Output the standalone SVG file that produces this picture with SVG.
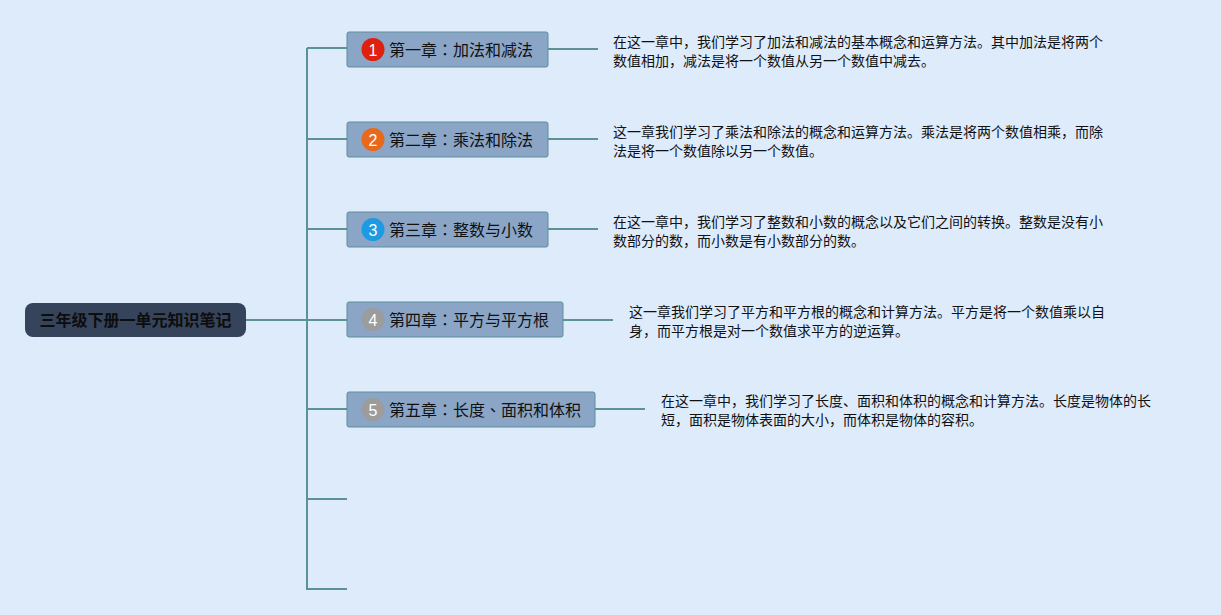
<svg xmlns="http://www.w3.org/2000/svg" width="1221" height="615" viewBox="0 0 1221 615">
<style>
.ln{stroke:#5b9295;stroke-width:2;fill:none}
.box{fill:#8aa5c6;stroke:#5f8f9c;stroke-width:1}
.ct{font-family:"Noto Sans CJK TC","Noto Sans",sans-serif;font-size:16px;fill:#111}
.num{font-family:"Liberation Sans",sans-serif;font-size:16px;fill:#fff;text-anchor:middle}
.ds{font-family:"Noto Sans CJK SC","Noto Sans",sans-serif;font-size:14px;fill:#111}
</style>
<rect width="1221" height="615" fill="#ddebfb"/>
<g id="connectors">
<path class="ln" d="M246 320H307M307 48V590M307 48H347M307 139H347M307 229H347M307 320H347M307 409H347M307 499H347M307 589H347"/>
<path class="ln" d="M548 49H598M548 139H598M548 229H598M563 320H613M595 409H645"/>
</g>
<g id="root">
<rect x="25" y="303" width="221" height="34" rx="8" fill="#35435b"/>
<text x="135.5" y="326" text-anchor="middle" font-family="Noto Sans CJK SC,sans-serif" font-size="16" font-weight="bold" fill="#0d0d0d">三年级下册一单元知识笔记</text>
</g>
<g id="n1">
<rect class="box" x="347" y="32" width="201" height="35" rx="2"/>
<circle cx="373" cy="49.5" r="11.5" fill="#e0200f"/>
<text class="num" x="373" y="55.5">1</text>
<text class="ct" x="389" y="55.5">第一章：加法和减法</text>
<text class="ds" x="613" y="47">在这一章中，我们学习了加法和减法的基本概念和运算方法。其中加法是将两个</text>
<text class="ds" x="613" y="66">数值相加，减法是将一个数值从另一个数值中减去。</text>
</g>
<g id="n2">
<rect class="box" x="347" y="122" width="201" height="35" rx="2"/>
<circle cx="373" cy="139.5" r="11.5" fill="#e8691c"/>
<text class="num" x="373" y="145.5">2</text>
<text class="ct" x="389" y="145.5">第二章：乘法和除法</text>
<text class="ds" x="613" y="137">这一章我们学习了乘法和除法的概念和运算方法。乘法是将两个数值相乘，而除</text>
<text class="ds" x="613" y="156">法是将一个数值除以另一个数值。</text>
</g>
<g id="n3">
<rect class="box" x="347" y="212" width="201" height="35" rx="2"/>
<circle cx="373" cy="229.5" r="11.5" fill="#1d9be2"/>
<text class="num" x="373" y="235.5">3</text>
<text class="ct" x="389" y="235.5">第三章：整数与小数</text>
<text class="ds" x="613" y="227">在这一章中，我们学习了整数和小数的概念以及它们之间的转换。整数是没有小</text>
<text class="ds" x="613" y="246">数部分的数，而小数是有小数部分的数。</text>
</g>
<g id="n4">
<rect class="box" x="347" y="302" width="216" height="35" rx="2"/>
<circle cx="373" cy="319.5" r="11.5" fill="#9c9c9c"/>
<text class="num" x="373" y="325.5">4</text>
<text class="ct" x="389" y="325.5">第四章：平方与平方根</text>
<text class="ds" x="629" y="317">这一章我们学习了平方和平方根的概念和计算方法。平方是将一个数值乘以自</text>
<text class="ds" x="629" y="336">身，而平方根是对一个数值求平方的逆运算。</text>
</g>
<g id="n5">
<rect class="box" x="347" y="392" width="248" height="35" rx="2"/>
<circle cx="373" cy="409.5" r="11.5" fill="#9c9c9c"/>
<text class="num" x="373" y="415.5">5</text>
<text class="ct" x="389" y="415.5">第五章：长度、面积和体积</text>
<text class="ds" x="661" y="406">在这一章中，我们学习了长度、面积和体积的概念和计算方法。长度是物体的长</text>
<text class="ds" x="661" y="425">短，面积是物体表面的大小，而体积是物体的容积。</text>
</g>
</svg>
